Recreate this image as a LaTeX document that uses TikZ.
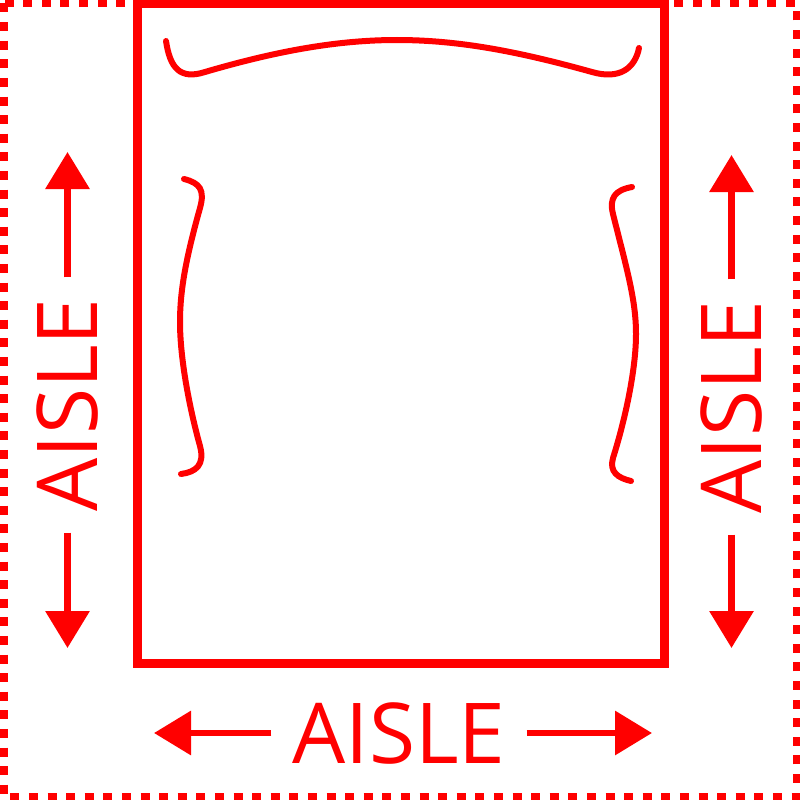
\documentclass[tikz,border=0pt]{standalone}
\usepackage{fontspec}
\setmainfont{Open Sans}
\usetikzlibrary{arrows.meta}

\begin{document}
\begin{tikzpicture}[x=1pt,y=-1pt]
\tikzset{aisle/.style = {text=red,font=\fontsize{84}{84}\selectfont,
	inner xsep=21pt,inner ysep=0pt}}
\tikzset{arr/.style = {draw=red,line width=6.5pt,
	-{Triangle[length=37pt,width=43pt]}}}
\tikzset{seat/.style = {draw=red,line width=6pt,line cap=round}}
\useasboundingbox (0,0) rectangle (800,800);
% outline
\draw[red,line width=8pt,dash pattern=on 9pt off 9.6pt] (3.5,3.5) rectangle (796.5,796.5);
\draw[red,line width=9pt] (137.5,4) rectangle (664,663);

% seats
\draw[seat] (166,41) .. controls (170,68) and (180,80) .. (205,72)
	.. controls (280,50) and (340,40) .. (397,40)
	.. controls (460,40) and (520,52) .. (592,72)
	.. controls (620,80) and (635,68) .. (639,48);
\draw[seat] (184,179) .. controls (200,183) and (205,190) .. (200,208)
	.. controls (186,258) and (180,290) .. (180,322)
	.. controls (180,360) and (190,410) .. (200,446)
	.. controls (205,465) and (196,472) .. (181,474);
\draw[seat] (632,187) .. controls (615,190) and (609,198) .. (613,214)
	.. controls (627,270) and (636,300) .. (636,334)
	.. controls (636,370) and (625,420) .. (613,458)
	.. controls (609,472) and (618,478) .. (631,481);

% labels
\node[aisle,rotate=90] (left) at (67.5,405) {AISLE};
\node[aisle,rotate=90] (right) at (731.5,407) {AISLE};
\node[aisle] (bottom) at (399,733) {AISLE};
\coordinate (lt) at (67.5,152);
\coordinate (lb) at (67.5,648);
\coordinate (rt) at (731.5,155);
\coordinate (rb) at (731.5,648);
\coordinate (bl) at (154,733);
\coordinate (br) at (652,733);

% arrows
\draw[arr] (left.east) -- (lt);
\draw[arr] (left.west) -- (lb);
\draw[arr] (right.east) -- (rt);
\draw[arr] (right.west) -- (rb);
\draw[arr] (bottom.west) -- (bl);
\draw[arr] (bottom.east) -- (br);
\end{tikzpicture}
\end{document}
